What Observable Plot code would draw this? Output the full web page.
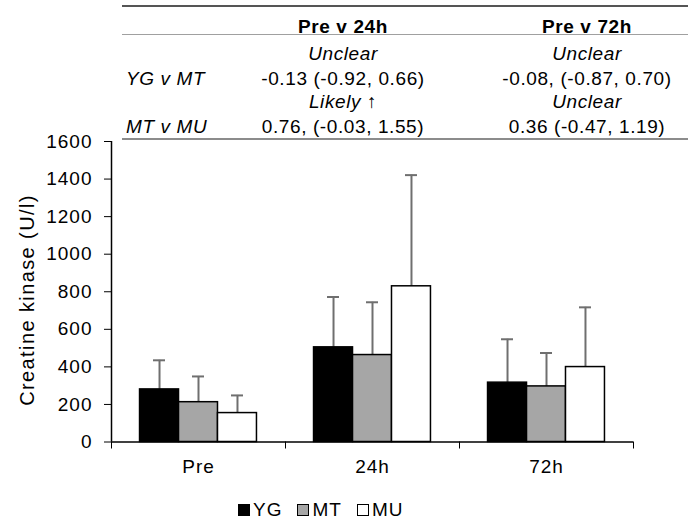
<!DOCTYPE html>
<html><head><meta charset="utf-8">
<script src="https://cdn.jsdelivr.net/npm/d3@7"></script>
<script src="https://cdn.jsdelivr.net/npm/@observablehq/plot@0.6"></script>
<style>
body{margin:0;background:#fff;}
#wrap{position:relative;width:688px;height:519px;font-family:"Liberation Sans",Arial,sans-serif;color:#000;overflow:hidden;background:#fff}
.t{position:absolute;font-size:19px;line-height:1;white-space:nowrap;letter-spacing:0.6px}
.c{transform:translate(-50%,-50%)}
.l{transform:translateY(-50%)}
.b{font-weight:bold}
.i{font-style:italic}
.hr{position:absolute;left:122px;width:566px}
#chart{position:absolute;left:0;top:136px}
#chart svg text{letter-spacing:1px}
#ylab{position:absolute;left:27px;top:300px;transform:translate(-50%,-50%) rotate(-90deg);font-size:20px;line-height:1;letter-spacing:1.4px;white-space:nowrap}
#legend{position:absolute;top:500px;left:238px;height:19px;display:flex;align-items:center;font-size:19px;letter-spacing:1px}
#legend .it{display:flex;align-items:center;margin-right:15px}
#legend .sw{width:12px;height:12px;box-sizing:border-box;border:1.5px solid #000;margin-right:3px}
</style>
</head><body>
<div id="wrap">
  <div id="table"></div>
  <div id="chart"></div>
  <div id="ylab"></div>
  <div id="legend"></div>
</div>
<script>
// ---- data ----
const groups = ["Pre", "24h", "72h"];
const series = ["YG", "MT", "MU"];
const colors = ["#000000", "#a6a6a6", "#ffffff"];
const YG = [280, 504, 316];
const MT = [212, 463, 296];
const MU = [154, 829, 399];
const YG_sd = [155, 268, 231];
const MT_sd = [137, 281, 178];
const MU_sd = [94, 592, 318];
const yLabel = "Creatine kinase (U/l)";

const comparisons = ["Pre v 24h", "Pre v 72h"];
const pairs = ["YG v MT", "MT v MU"];
const inferences = [["Unclear", "Unclear"], ["Likely \u2191", "Unclear"]];
const effects = [["-0.13 (-0.92, 0.66)", "-0.08, (-0.87, 0.70)"], ["0.76, (-0.03, 1.55)", "0.36 (-0.47, 1.19)"]];

// ---- table above chart ----
const tbl = document.getElementById("table");
function addText(txt, cls, x, y) {
  const d = document.createElement("div");
  d.className = "t " + cls;
  d.textContent = txt;
  d.style.left = x + "px";
  d.style.top = y + "px";
  tbl.appendChild(d);
}
function addLine(y, h, col) {
  const d = document.createElement("div");
  d.className = "hr";
  d.style.top = (y - h / 2) + "px";
  d.style.height = h + "px";
  d.style.background = col;
  tbl.appendChild(d);
}
const colX = [343, 587];
const rowY = {head: 25.5, inf: [52.5, 101], eff: [78, 126]};
addLine(6, 1.5, "#555");
addLine(34.5, 1, "#a0a0a0");
addLine(139, 2, "#8c8c8c");
comparisons.forEach((c, j) => addText(c, "c b", colX[j], rowY.head));
pairs.forEach((p, r) => {
  addText(p, "l i", 126, rowY.eff[r]);
  inferences[r].forEach((s, j) => addText(s, "c i", colX[j], rowY.inf[r]));
  effects[r].forEach((s, j) => addText(s, "c", colX[j], rowY.eff[r]));
});

// ---- chart ----
const means = [YG, MT, MU];
const sds = [YG_sd, MT_sd, MU_sd];
const rows = [];
groups.forEach((g, gi) => series.forEach((s, si) => rows.push({group: g, gi, series: s, si, value: means[si][gi], sd: sds[si][gi]})));

const barW = 0.224;                       // bar width as a fraction of a category
const start = (1 - series.length * barW) / 2;
const x1 = d => d.gi + start + d.si * barW;
const x2 = d => d.gi + start + (d.si + 1) * barW;
const xc = d => d.gi + start + (d.si + 0.5) * barW;

const plot = Plot.plot({
  width: 688,
  height: 355,
  marginTop: 5,
  marginBottom: 49.5,
  marginLeft: 111,
  marginRight: 55,
  style: {fontFamily: "'Liberation Sans', Arial, sans-serif", fontSize: "19px", background: "transparent", color: "#000", overflow: "visible"},
  x: {domain: [0, groups.length], ticks: groups.length, tickSize: 7, tickFormat: () => "", label: null},
  y: {domain: [0, 1600], ticks: 8, tickSize: 7, tickPadding: 12, tickFormat: d3.format("d"), label: null},
  color: {domain: series, range: colors},
  marks: [
    Plot.ruleX(rows, {x: xc, y1: "value", y2: d => d.value + d.sd, stroke: "#6f6f6f", strokeWidth: 2}),
    Plot.ruleY(rows, {x1: xc, x2: xc, y: d => d.value + d.sd, stroke: "#6f6f6f", strokeWidth: 2, insetLeft: -6, insetRight: -6}),
    Plot.rectY(rows, {x1, x2, y1: 0, y2: "value", fill: "series", stroke: "#000", strokeWidth: 1.5}),
    Plot.ruleX([0], {stroke: "#000", strokeWidth: 1.5}),
    Plot.ruleY([0], {stroke: "#000", strokeWidth: 1.5}),
    Plot.text(groups, {x: (d, i) => i + 0.5, y: () => 0, text: d => d, dy: 25, fontSize: 19})
  ]
});
document.getElementById("chart").appendChild(plot);
document.getElementById("ylab").textContent = yLabel;

// ---- legend ----
const leg = document.getElementById("legend");
series.forEach((s, i) => {
  const it = document.createElement("div");
  it.className = "it";
  const sw = document.createElement("div");
  sw.className = "sw";
  sw.style.background = colors[i];
  it.appendChild(sw);
  const tx = document.createElement("span");
  tx.textContent = s;
  it.appendChild(tx);
  leg.appendChild(it);
});
</script>
</body></html>
